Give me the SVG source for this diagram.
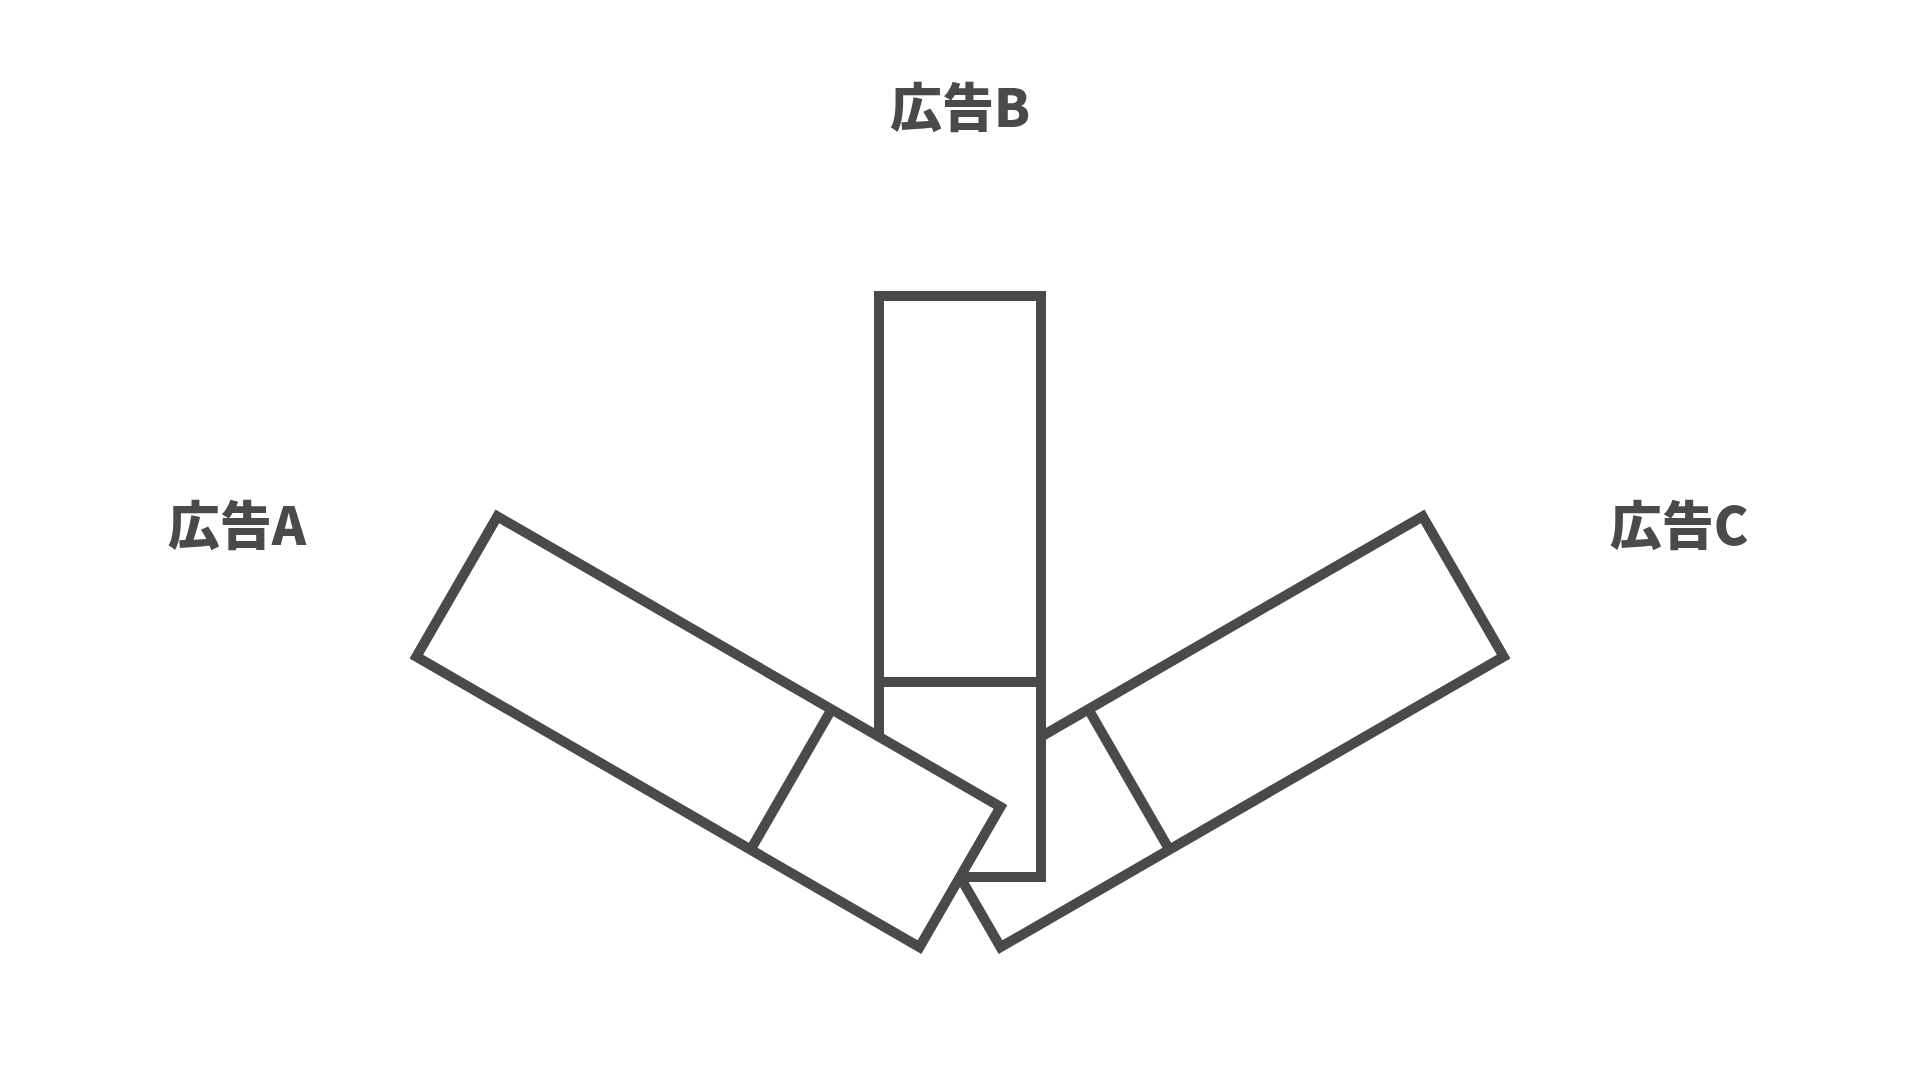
<svg xmlns="http://www.w3.org/2000/svg" width="1920" height="1080" viewBox="0 0 1920 1080">
<style>
.card{fill:#ffffff;stroke:#4a4a4a;stroke-width:10;stroke-linejoin:miter}
.div{fill:none;stroke:#4a4a4a;stroke-width:10}
.lbl{font-family:"Noto Sans CJK JP","Noto Sans CJK SC",sans-serif;font-weight:900;font-size:52px;fill:#4a4a4a;text-anchor:middle}
</style>
<defs>
<g id="card">
<rect class="card" x="879" y="296" width="162" height="581"/>
<line class="div" x1="879" y1="682" x2="1041" y2="682"/>
</g>
</defs>
<rect width="1920" height="1080" fill="#ffffff"/>
<g id="nodeC"><use href="#card" transform="rotate(60 960 877)"/></g>
<g id="nodeB"><use href="#card"/></g>
<g id="nodeA"><use href="#card" transform="rotate(-60 960 877)"/></g>
<g id="labels">
<text id="labelB" class="lbl" x="960" y="127">広告B</text>
<text id="labelA" class="lbl" x="237" y="545">広告A</text>
<text id="labelC" class="lbl" x="1679" y="545">広告C</text>
</g>
<g id="connectors"/>
</svg>
